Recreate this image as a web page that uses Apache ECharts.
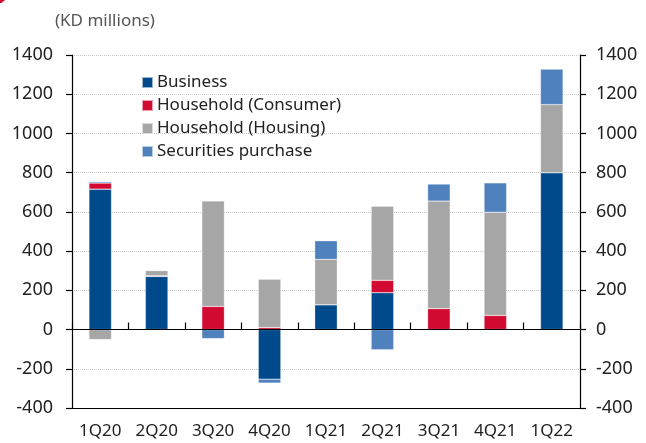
<!DOCTYPE html>
<html><head><meta charset="utf-8">
<script src="https://cdn.jsdelivr.net/npm/echarts@6/dist/echarts.min.js"></script>
<style>html,body{margin:0;padding:0;background:#fff}#c{width:646px;height:443px}</style>
</head><body><div id="c"></div>
<script>
const categories = ['1Q20','2Q20','3Q20','4Q20','1Q21','2Q21','3Q21','4Q21','1Q22'];
const business   = [716, 271, 0, -253, 126, 188, 0, 0, 800];
const consumer   = [31, 3, 118, 10, -3, 63, 107, 72, 0];
const housing    = [-51, 27, 538, 246, 232, 378, 548, 526, 347];
const securities = [7, 0, -46, -20, 95, -103, 87, 150, 181];
const yTicks = {min: -400, max: 1400, interval: 200};

const colors = {business:'#004a8c', consumer:'#d20a32', housing:'#a6a6a6', securities:'#4f81bd'};
const font = 'Noto Sans';
const G = {left:72, right:66, top:55, bottom:35, h:443};
const zeroY = G.top + (yTicks.max/(yTicks.max-yTicks.min))*(G.h-G.top-G.bottom);
function mk(name, data, color){
  return {name, type:'bar', stack:'t', data, barWidth:'40%', xAxisIndex:0, yAxisIndex:0, z:2,
    itemStyle:{color, borderColor:'rgba(255,255,255,0.6)', borderWidth:0.5}};
}
const yAx = (pos) => ({type:'value', gridIndex:0, position:pos, min:yTicks.min, max:yTicks.max, interval:yTicks.interval,
  axisLine:{show:true, lineStyle:{color:'#000', width:1.2}},
  axisTick:{show:true, inside:false, length:6, lineStyle:{color:'#000', width:1.2}},
  axisLabel:{color:'#222', fontSize:18, fontFamily:font, margin:pos==='left'?19:16, formatter:v=>String(v)},
  splitLine:{show: pos==='left', lineStyle:{color:'#c8c8c8', type:'dotted'}}
});
const chart = echarts.init(document.getElementById('c'));
chart.setOption({
  animation:false,
  graphic:[{type:'circle', shape:{cx:-4, cy:-8, r:12}, style:{fill:'#d20a32'}}],
  title:{text:'(KD millions)', left:50, top:8, textStyle:{color:'#555', fontSize:17, fontWeight:'normal', fontFamily:font}},
  legend:{orient:'vertical', left:136, top:69, itemWidth:11, itemHeight:11, itemGap:6, icon:'rect',
    textStyle:{color:'#222', fontSize:17, fontFamily:font, padding:[0,0,0,-1]},
    data:['Business','Household (Consumer)','Household (Housing)','Securities purchase']},
  grid:[
    {left:G.left, right:G.right, top:G.top, bottom:G.bottom, containLabel:false},
    {left:G.left, right:G.right, top:G.top, bottom:G.h-zeroY, containLabel:false}
  ],
  xAxis:[
    {type:'category', gridIndex:0, data:categories, position:'bottom',
     axisLine:{onZero:false, lineStyle:{color:'#000', width:1.2}}, axisTick:{show:false},
     axisLabel:{color:'#222', fontSize:17, fontFamily:font, margin:15, interval:0, hideOverlap:false}},
    {type:'category', gridIndex:1, data:categories, position:'bottom', z:5,
     axisLine:{show:true, onZero:false, lineStyle:{color:'#000', width:1.2}},
     axisTick:{show:true, inside:true, length:7, interval:0, lineStyle:{color:'#000', width:1.2}},
     axisLabel:{show:false}, splitLine:{show:false}}
  ],
  yAxis:[yAx('left'), yAx('right'),
    {type:'value', gridIndex:1, min:0, max:1, show:false, splitLine:{show:false}}],
  series:[
    mk('Business', business, colors.business),
    mk('Household (Consumer)', consumer, colors.consumer),
    mk('Household (Housing)', housing, colors.housing),
    mk('Securities purchase', securities, colors.securities)
  ]
});
</script></body></html>
